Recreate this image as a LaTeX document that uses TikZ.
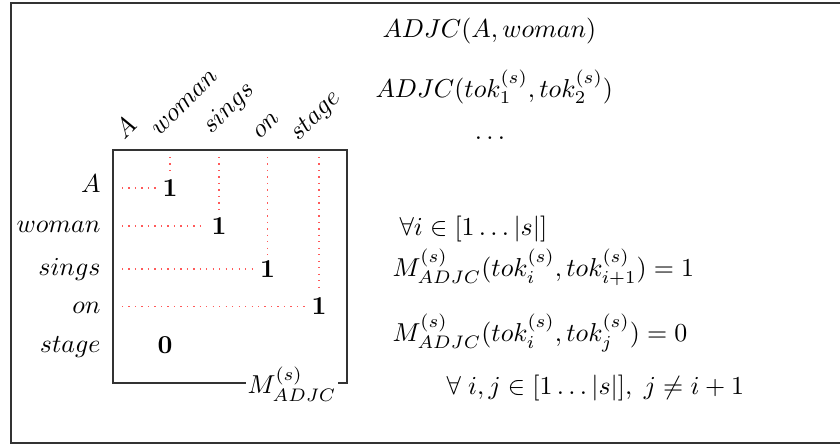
\documentclass[tikz,border=0pt]{standalone}
\begin{document}
\begin{tikzpicture}[x=0.386pt,y=-0.386pt,
  frame/.style={draw=black!80, line width=0.8pt},
  lbl/.style={inner sep=0pt},
  entry/.style={inner sep=2pt, font=\bfseries},
  guide/.style={draw=red!65, dotted, line width=0.5pt}]
\useasboundingbox (0,0) rectangle (840,445);
\clip (0,0) rectangle (840,445);
\draw[frame] (11,3) rectangle (870,443);
% matrix box
\draw[frame] (113,150) rectangle (347,383);
\node[fill=white, inner sep=0.5pt] (mlab) at (292,384) {$M^{(s)}_{ADJC}$};
% row labels
\node[lbl, anchor=base east] (rA) at (101,192) {$A$};
\node[lbl, anchor=base east] (rwoman) at (101,232) {$woman$};
\node[lbl, anchor=base east] (rsings) at (101,275) {$sings$};
\node[lbl, anchor=base east] (ron) at (101,313) {$on$};
\node[lbl, anchor=base east] (rstage) at (101,352) {$stage$};
% column labels
\node[lbl, anchor=base west, rotate=45] (cA) at (124,141) {$A$};
\node[lbl, anchor=base west, rotate=45] (cwoman) at (159,137) {$woman$};
\node[lbl, anchor=base west, rotate=45] (csings) at (211,135) {$sings$};
\node[lbl, anchor=base west, rotate=45] (con) at (260,140) {$on$};
\node[lbl, anchor=base west, rotate=45] (cstage) at (298,142) {$stage$};
% entries
\node[entry] (e1) at (170,188) {1};
\node[entry] (e2) at (219,226) {1};
\node[entry] (e3) at (267.5,269) {1};
\node[entry] (e4) at (319,306.5) {1};
\node[entry] (e0) at (165,345.5) {0};
% guide coordinates
\coordinate (h1) at (122,188);
\coordinate (h2) at (122,226);
\coordinate (h3) at (122,269);
\coordinate (h4) at (122,306.5);
\coordinate (v1) at (170,157);
\coordinate (v2) at (219,157);
\coordinate (v3) at (267.5,157);
\coordinate (v4) at (319,157);
\draw[guide] (h1) -- (e1.west);
\draw[guide] (h2) -- (e2.west);
\draw[guide] (h3) -- (e3.west);
\draw[guide] (h4) -- (e4.west);
\draw[guide] (v1) -- (e1.north);
\draw[guide] (v2) -- (e2.north);
\draw[guide] (v3) -- (e3.north);
\draw[guide] (v4) -- (e4.north);
% right-hand text
\node[lbl, anchor=base west] (t1) at (382,37) {$ADJC(A,woman)$};
\node[lbl, anchor=base west] (t2) at (375,97) {$ADJC(tok_1^{(s)},tok_2^{(s)})$};
\node[lbl] (t3) at (490,138) {$\dots$};
\node[lbl, anchor=base west] (t4) at (399,235) {$\forall i\in[1\dots|s|]$};
\node[lbl, anchor=base west] (t5) at (392,276) {$M^{(s)}_{ADJC}(tok_i^{(s)},tok_{i+1}^{(s)})=1$};
\node[lbl, anchor=base west] (t6) at (392,341) {$M^{(s)}_{ADJC}(tok_i^{(s)},tok_j^{(s)})=0$};
\node[lbl, anchor=base west] (t7) at (446,394) {$\forall\;i,j\in[1\dots|s|],\; j\neq i+1$};
\end{tikzpicture}
\end{document}
